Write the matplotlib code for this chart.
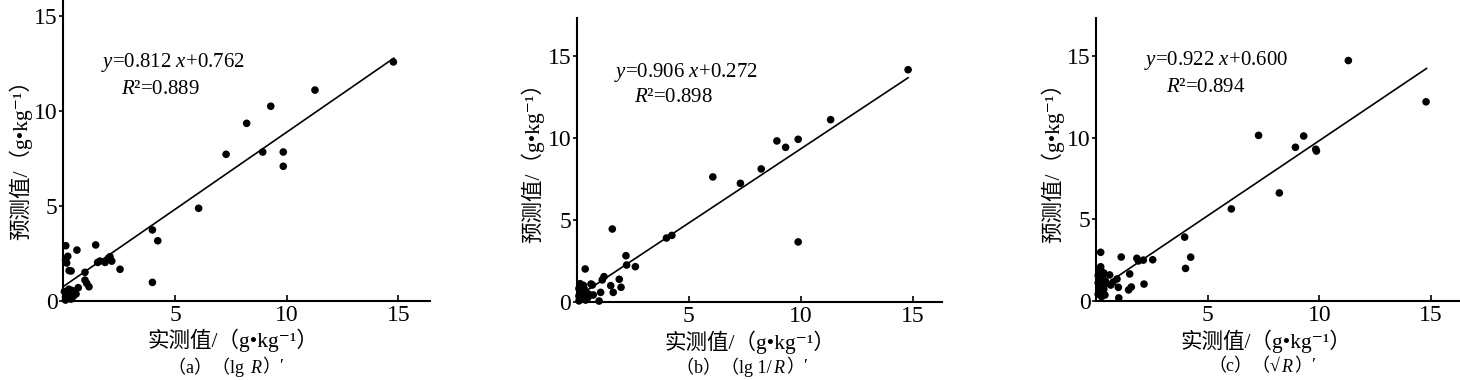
import matplotlib
matplotlib.use("Agg")
import numpy as np
import matplotlib.pyplot as plt
from matplotlib.offsetbox import TextArea, HPacker, AnnotationBbox

# ---------------- data ----------------
meas_a = [14.78, 11.27, 9.29, 8.21, 7.29, 8.93, 9.85, 9.85, 6.06, 3.99, 4.23, 3.99,
          2.54, 1.45, 0.61, 0.97, 1.54, 1.64, 1.87, 2.02, 2.09, 2.17, 0.97, 1.05, 1.15, 0.67, 0.57, 0.26,
          0.11, 0.20, 0.10, 0.15, 0.26, 0.35,
          0.10, 0.20, 0.35, 0.15, 0.30, 0.45, 0.05, 0.25, 0.40, 0.10, 0.50]
pred_a = [12.58, 11.10, 10.25, 9.35, 7.72, 7.84, 7.84, 7.09, 4.88, 3.74, 3.17, 0.98,
          1.67, 2.95, 2.68, 1.51, 2.03, 2.10, 2.03, 2.25, 2.33, 2.10, 1.10, 0.93, 0.75, 0.70, 0.37, 0.58,
          2.91, 2.35, 2.15, 2.00, 1.60, 1.58,
          0.05, 0.15, 0.10, 0.35, 0.40, 0.25, 0.50, 0.62, 0.55, 0.20, 0.45]

meas_b = [14.80, 11.34, 9.89, 9.33, 9.89, 8.94, 8.24, 7.31, 6.08, 4.01, 4.25,
          1.59, 2.20, 2.23, 2.62, 0.38, 1.22, 1.14, 1.90, 1.52, 1.98, 1.63, 1.07, 0.70, 0.74, 1.00, 0.64, 0.55,
          0.15, 0.30, 0.10, 0.35, 0.20, 0.45, 0.10, 0.30, 0.20, 0.40, 0.10, 0.50, 0.25]
pred_b = [14.17, 11.12, 9.92, 9.43, 3.65, 9.82, 8.11, 7.23, 7.62, 3.89, 4.05,
          4.44, 2.81, 2.24, 2.14, 2.00, 1.53, 1.33, 1.37, 0.98, 0.88, 0.57, 0.57, 1.02, 0.41, 0.04, 1.08, 0.45,
          1.10, 1.00, 0.80, 0.75, 0.55, 0.50, 0.35, 0.30, 0.15, 0.10, 0.05, 0.25, 0.85]

meas_c = [11.30, 14.78, 7.28, 9.30, 8.93, 9.84, 9.87, 8.21, 6.06, 3.97, 4.24, 4.01,
          2.54, 2.12, 1.83, 1.90, 1.13, 1.51, 2.15, 1.58, 1.46, 1.00, 1.02, 0.94, 0.66, 0.76, 0.61, 0.21,
          0.21, 0.21, 0.15, 0.35, 0.10, 0.30, 0.20, 0.42, 0.10, 0.30, 0.15, 0.35, 0.20, 0.40, 0.25, 0.10, 0.45]
pred_c = [14.73, 12.20, 10.14, 10.10, 9.41, 9.29, 9.18, 6.61, 5.63, 3.90, 2.67, 1.98,
          2.51, 2.49, 2.60, 2.44, 2.68, 1.64, 1.02, 0.84, 0.66, 0.82, 0.17, 1.33, 0.96, 1.13, 1.58, 2.97,
          2.08, 1.88, 1.75, 1.70, 1.55, 1.45, 1.30, 1.20, 1.10, 0.95, 0.80, 0.70, 0.50, 0.35, 0.25, 0.40, 1.05]

slopes = [0.812, 0.906, 0.922]
intercepts = [0.762, 0.272, 0.600]
r2_values = [0.889, 0.898, 0.894]
fit_start = [0.05, 0.30, 0.75]
fit_end = [14.8, 14.8, 14.8]

x_ticks = [5, 10, 15]
y_ticks = [0, 5, 10, 15]
x_label = "实测值/（g•kg⁻¹）"
y_label = "预测值/（g•kg⁻¹）"
panel_letters = ["a", "b", "c"]
transform_names = [("lg ", ""), ("lg 1/", ""), ("√", "")]

# ---------------- style ----------------
W, H = 1460, 380
FAM = ["Liberation Serif", "Noto Sans CJK SC", "DejaVu Serif"]
plt.rcParams["font.family"] = FAM
plt.rcParams["mathtext.fontset"] = "custom"
plt.rcParams["mathtext.rm"] = "Liberation Serif"
plt.rcParams["mathtext.it"] = "Liberation Serif:italic"

fig = plt.figure(figsize=(W / 100, H / 100), dpi=100)

def frac(x, y):
    return x / W, 1 - y / H

# layout in pixels: left, top, right, bottom
rects = [(63.3, 0, 430, 301), (576.7, 18, 941.7, 301.7), (1096, 18, 1460, 300.7)]
xlims = [16.42, 16.3, 16.3]
ylims = [15.84, 17.33, 17.34]
eq_pos = [(172.5, 63), (685.5, 73), (1216, 61)]
r2_pos = [(160, 89), (674, 98), (1206, 87)]
xlabel_pos = [(233, 340), (750, 342), (1266, 341)]
cap_pos = [(226, 367), (742, 367), (1262, 367)]
ylabel_pos = [(20, 155), (532, 158), (1052, 158)]

datasets = [(meas_a, pred_a), (meas_b, pred_b), (meas_c, pred_c)]

for i in range(3):
    l, t, r, b = rects[i]
    ax = fig.add_axes([l / W, 1 - b / H, (r - l) / W, (b - t) / H])
    mx, py = datasets[i]
    ax.scatter(mx, py, s=30, color="black", edgecolors="none", zorder=3, clip_on=False)
    xs = np.array([fit_start[i], fit_end[i]])
    ax.plot(xs, slopes[i] * xs + intercepts[i], color="black", lw=1.2, zorder=2)
    ax.set_xlim(0, xlims[i])
    ax.set_ylim(0, ylims[i])
    ax.set_xticks(x_ticks)
    ax.set_yticks(y_ticks)
    for s in ["top", "right"]:
        ax.spines[s].set_visible(False)
    for s in ["left", "bottom"]:
        ax.spines[s].set_linewidth(1.5)
    ax.tick_params(axis="x", direction="in", length=4, width=1.2, pad=3, labelsize=17)
    ax.tick_params(axis="y", direction="out", length=3, width=1.2, pad=1, labelsize=17)
    for lab in ax.get_xticklabels() + ax.get_yticklabels():
        lab.set_fontfamily("Liberation Serif")

    fig.text(*frac(*eq_pos[i]), f"$y$=%.3f $x$+%.3f" % (slopes[i], intercepts[i]),
             ha="center", va="center", fontsize=15, family="Liberation Serif")
    fig.text(*frac(*r2_pos[i]), "$R$²=%.3f" % r2_values[i],
             ha="center", va="center", fontsize=15, family="Liberation Serif")
    fig.text(*frac(*xlabel_pos[i]), x_label, ha="center", va="center", fontsize=15.5, family=FAM)
    fig.text(*frac(*ylabel_pos[i]), y_label, ha="center", va="center", fontsize=15.5,
             family=FAM, rotation=90)

    pre, post = transform_names[i]
    tp = dict(fontsize=13, family=FAM)
    tpi = dict(fontsize=13, family="Liberation Serif", style="italic")
    pieces = [TextArea(f"（{panel_letters[i]}）（{pre}", textprops=tp),
              TextArea("R", textprops=tpi),
              TextArea("）′", textprops=tp)]
    box = HPacker(children=pieces, pad=0, sep=1, align="baseline")
    ab = AnnotationBbox(box, frac(*cap_pos[i]), xycoords="figure fraction",
                        frameon=False, box_alignment=(0.5, 0.5), pad=0)
    fig.add_artist(ab)

fig.savefig("out.png", dpi=100)
